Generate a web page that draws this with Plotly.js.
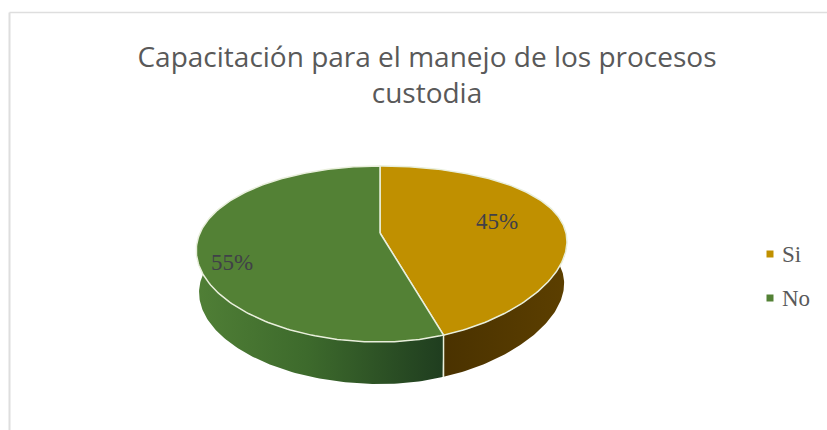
<!DOCTYPE html>
<html><head><meta charset="utf-8">
<script src="https://cdn.plot.ly/plotly-3.0.1.min.js"></script>
<style>html,body{margin:0;padding:0;background:#fff}#c{width:827px;height:430px}</style>
</head><body><div id="c"></div>
<script>
const categories = ['Si', 'No'];
const values = [45, 55];
const faceColors = ['#c09000', '#538135'];
const wallGradients = [
  [[0, '#4a3200'], [1, '#5c3f00']],
  [[0, '#507f36'], [0.45, '#3d6a2c'], [1, '#1f3d1f']]
];

// Projection of the tilted disc (pie depth and perspective); right and left halves differ slightly
const hub = {x: 380, y: 233}, ry = 83, persY = -0.2386, depth = 42, bottomScale = 0.985;
const side = {right: {rx: 186, pers: -0.1}, left: {rx: 180, pers: -0.2}};
const rim = (deg, down) => {
  const t = deg * Math.PI / 180, u = Math.sin(t), v = -Math.cos(t);
  const s = down ? bottomScale : 1;
  const h = u >= 0 ? side.right : side.left;
  return [hub.x + s * h.rx * u / (1 + h.pers * v),
          hub.y + ry * v / (1 + persY * v) + (down ? depth : 0)];
};
const arc = (a, b, down) => {
  const n = Math.max(2, Math.ceil(Math.abs(b - a)));
  const pts = [];
  for (let i = 0; i <= n; i++) pts.push(rim(a + (b - a) * i / n, down));
  return pts;
};

const total = values.reduce((p, c) => p + c, 0);
let start = 0;
const slices = values.map(v => { const s = {a: start, b: start + v / total * 360}; start = s.b; return s; });

const traces = [];
const edge = '#e9efdc';
// side walls
slices.forEach((s, i) => {
  const a = Math.max(s.a, 75), b = Math.min(s.b, 285);
  const top = arc(a, b, false), bot = arc(b, a, true);
  const pts = top.concat(bot); pts.push(top[0]);
  const xs = pts.map(p => p[0]);
  traces.push({
    type: 'scatter', mode: 'lines', x: xs, y: pts.map(p => p[1]), fill: 'toself',
    fillgradient: {type: 'horizontal', colorscale: wallGradients[i],
                   start: Math.min(...xs), stop: Math.max(...xs)},
    line: {width: 0}, showlegend: false, hoverinfo: 'skip'
  });
});
// front divider between walls
const dividerTop = rim(slices[0].b, false), dividerBot = rim(slices[0].b, true);
traces.push({type: 'scatter', mode: 'lines', x: [dividerTop[0], dividerTop[0]], y: [dividerTop[1], dividerBot[1]],
  line: {color: edge, width: 1.5}, showlegend: false, hoverinfo: 'skip'});
// top faces
slices.forEach((s, i) => {
  const pts = [[hub.x, hub.y]].concat(arc(s.a, s.b, false)); pts.push([hub.x, hub.y]);
  traces.push({type: 'scatter', mode: 'lines', x: pts.map(p => p[0]), y: pts.map(p => p[1]), fill: 'toself',
    fillcolor: faceColors[i], line: {color: edge, width: 1.5}, showlegend: false,
    name: categories[i], hoverinfo: 'name'});
});
// legend keys
const legendX = 770, legendTextX = 783, legendY = [254, 298];
traces.push({type: 'scatter', mode: 'markers', x: categories.map(() => legendX), y: legendY, showlegend: false,
  hoverinfo: 'skip', marker: {symbol: 'square', size: 7, color: faceColors}});

const pct = i => Math.round(values[i] / total * 100) + '%';
const labelPos = [[497, 221], [232, 262]];
const annotations = values.map((v, i) => ({
  x: labelPos[i][0], y: labelPos[i][1], xref: 'x', yref: 'y', text: pct(i), showarrow: false,
  font: {family: 'Liberation Serif', size: 23, color: '#404048'}, xanchor: 'center', yanchor: 'middle'
})).concat(categories.map((c, i) => ({
  x: legendTextX, y: legendY[i], xref: 'x', yref: 'y', text: c, showarrow: false, xshift: -3,
  font: {family: 'Liberation Serif', size: 23, color: '#595959'}, xanchor: 'left', yanchor: 'middle'
})));

Plotly.newPlot('c', traces, {
  width: 827, height: 430, margin: {l: 0, r: 0, t: 0, b: 0},
  showlegend: false,
  paper_bgcolor: '#fff', plot_bgcolor: '#fff',
  xaxis: {range: [0, 827], visible: false, fixedrange: true},
  yaxis: {range: [430, 0], visible: false, fixedrange: true},
  title: {text: 'Capacitación para el manejo de los procesos<br>custodia',
    font: {family: 'Open Sans', size: 28, color: '#595959'}, x: 427 / 827, xanchor: 'center', y: 0.845, yanchor: 'middle'},
  annotations,
  shapes: [
    {type: 'line', xref: 'paper', yref: 'paper', x0: 9.5 / 827, x1: 1, y0: 1 - 12.5 / 430, y1: 1 - 12.5 / 430, line: {color: '#dedede', width: 1.5}},
    {type: 'line', xref: 'paper', yref: 'paper', x0: 9.5 / 827, x1: 9.5 / 827, y0: 0, y1: 1 - 12.5 / 430, line: {color: '#dedede', width: 2}}
  ]
}, {displayModeBar: false, staticPlot: true});
</script></body></html>
